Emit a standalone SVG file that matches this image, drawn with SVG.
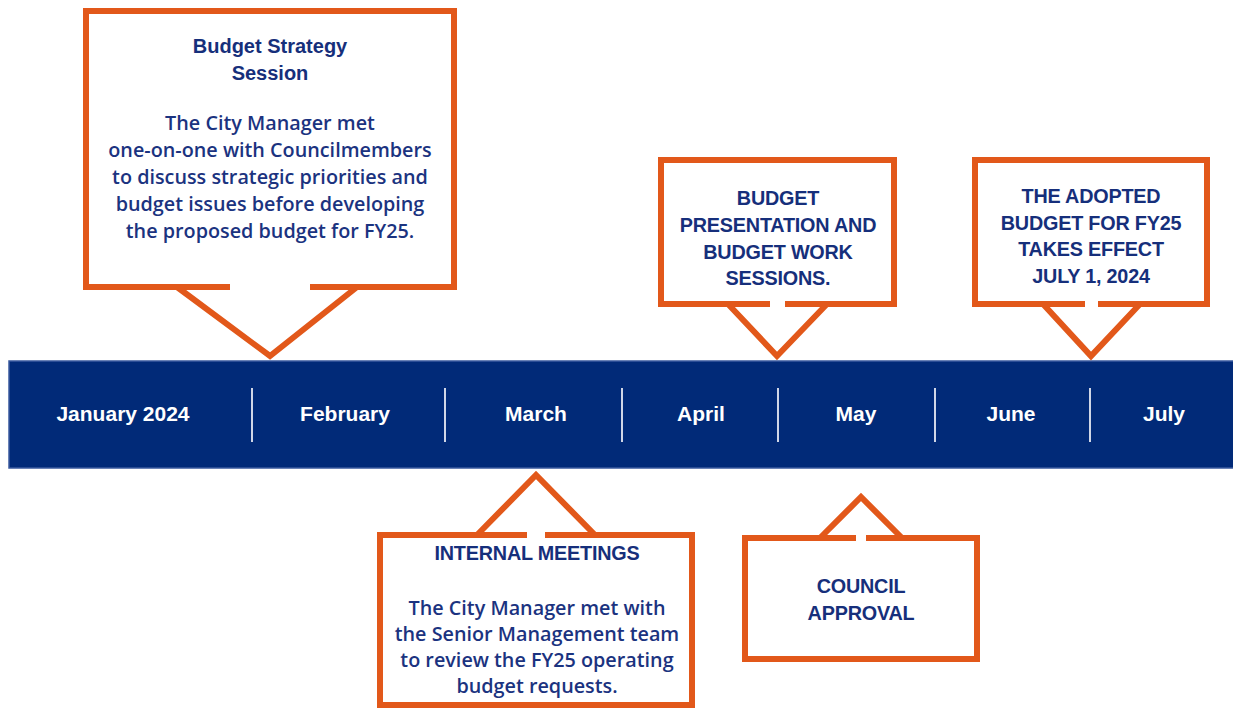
<svg xmlns="http://www.w3.org/2000/svg" width="1233" height="709" viewBox="0 0 1233 709">
<style>
.box{fill:none;stroke:#E2581A;stroke-width:6;stroke-linejoin:miter}
.ttl{font-family:"Liberation Sans",Arial,sans-serif;font-weight:700;font-size:19.8px;fill:#162F7B;text-anchor:middle;letter-spacing:-0.2px}
.body{font-family:"Open Sans","Noto Sans",sans-serif;font-weight:600;font-size:19.8px;fill:#1B3380;text-anchor:middle}
.mon{font-family:"Liberation Sans",Arial,sans-serif;font-weight:700;font-size:21px;fill:#FFFFFF;text-anchor:middle}
.div{stroke:#D0D6E6;stroke-width:2}
</style>
<rect width="1233" height="709" fill="#FFFFFF"/>
<g id="timeline">
  <rect x="9" y="361" width="1226" height="107" fill="#012A78" stroke="#3A5A9E" stroke-width="1.5"/>
  <line class="div" x1="252" y1="388" x2="252" y2="442"/>
  <line class="div" x1="445" y1="388" x2="445" y2="442"/>
  <line class="div" x1="622" y1="388" x2="622" y2="442"/>
  <line class="div" x1="778" y1="388" x2="778" y2="442"/>
  <line class="div" x1="935" y1="388" x2="935" y2="442"/>
  <line class="div" x1="1090" y1="388" x2="1090" y2="442"/>
  <text class="mon" x="123" y="421">January 2024</text>
  <text class="mon" x="345" y="421">February</text>
  <text class="mon" x="536" y="421">March</text>
  <text class="mon" x="701" y="421">April</text>
  <text class="mon" x="856" y="421">May</text>
  <text class="mon" x="1011" y="421">June</text>
  <text class="mon" x="1164" y="421">July</text>
</g>
<g id="connectors">
  <polyline class="box" points="177,287 270,356 357,287"/>
  <polyline class="box" points="728,304 777,356 827,304"/>
  <polyline class="box" points="1043,304 1091,356 1140,304"/>
  <polyline class="box" points="477,535 536,475 595,535"/>
  <polyline class="box" points="820,538 861,497 902,538"/>
</g>
<g id="strategy-session">
  <path class="box" d="M230,287 H86 V11 H454 V287 H310"/>
  <text class="ttl" x="270" y="53" style="font-size:20px;letter-spacing:0">Budget Strategy</text>
  <text class="ttl" x="270" y="80" style="font-size:20px;letter-spacing:0">Session</text>
  <text class="body" x="270" y="130">The City Manager met</text>
  <text class="body" x="270" y="157">one-on-one with Councilmembers</text>
  <text class="body" x="270" y="184">to discuss strategic priorities and</text>
  <text class="body" x="270" y="211">budget issues before developing</text>
  <text class="body" x="270" y="238">the proposed budget for FY25.</text>
</g>
<g id="budget-presentation">
  <path class="box" d="M770,304 H661 V160 H894 V304 H785"/>
  <text class="ttl" x="778" y="205">BUDGET</text>
  <text class="ttl" x="778" y="232">PRESENTATION AND</text>
  <text class="ttl" x="778" y="258.5">BUDGET WORK</text>
  <text class="ttl" x="778" y="285">SESSIONS.</text>
</g>
<g id="adopted-budget">
  <path class="box" d="M1085,304 H975 V160 H1207 V304 H1098"/>
  <text class="ttl" x="1091" y="203">THE ADOPTED</text>
  <text class="ttl" x="1091" y="229.7">BUDGET FOR FY25</text>
  <text class="ttl" x="1091" y="256.3">TAKES EFFECT</text>
  <text class="ttl" x="1091" y="283">JULY 1, 2024</text>
</g>
<g id="internal-meetings">
  <path class="box" d="M527,535 H380 V705 H692 V535 H545"/>
  <text class="ttl" x="537" y="560">INTERNAL MEETINGS</text>
  <text class="body" x="537" y="615">The City Manager met with</text>
  <text class="body" x="537" y="641">the Senior Management team</text>
  <text class="body" x="537" y="667">to review the FY25 operating</text>
  <text class="body" x="537" y="693">budget requests.</text>
</g>
<g id="council-approval">
  <path class="box" d="M856,538 H745 V659 H977 V538 H866"/>
  <text class="ttl" x="861" y="593">COUNCIL</text>
  <text class="ttl" x="861" y="620">APPROVAL</text>
</g>
</svg>
